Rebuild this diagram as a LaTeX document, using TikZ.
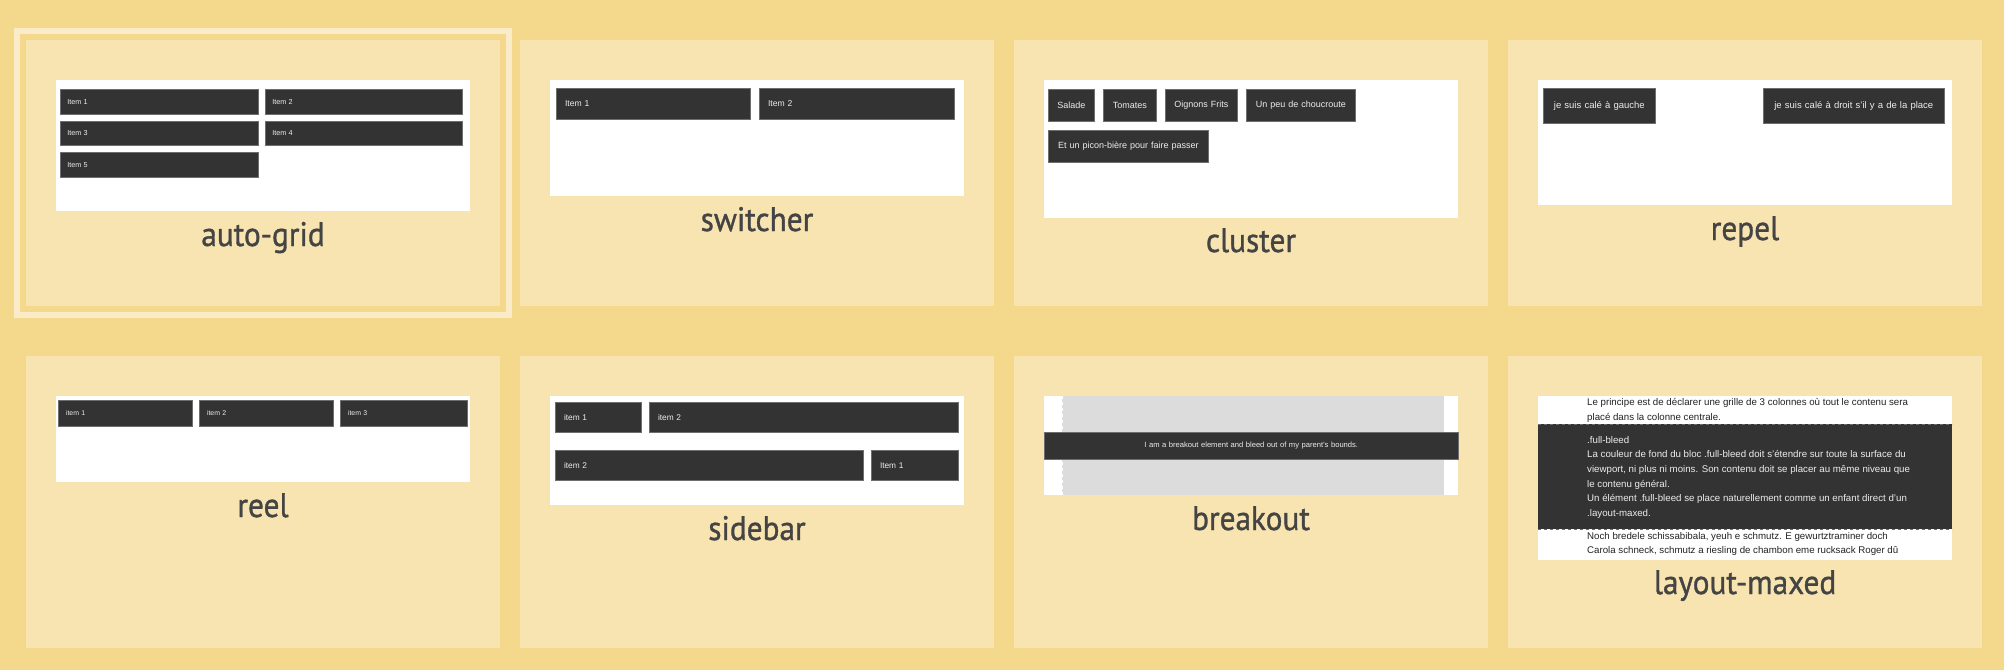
\documentclass[tikz,border=0pt]{standalone}
\usepackage{fontspec}
\setmainfont{Liberation Sans}
\newfontfamily\labelfont[FakeStretch=0.92, FakeBold=1.0]{PT Sans}

\definecolor{pagebg}{HTML}{F4D98C}
\definecolor{cardbg}{HTML}{F8E4B0}
\definecolor{framebg}{HTML}{FAECC9}
\definecolor{boxdark}{HTML}{333333}
\definecolor{boxedge}{HTML}{6E6E6E}
\definecolor{labelgray}{HTML}{444444}
\definecolor{bleedgray}{HTML}{DCDCDC}
\definecolor{bodytext}{HTML}{222222}

\tikzset{
  card/.style={fill=cardbg},
  panel/.style={fill=white},
  uibox/.style={fill=boxdark, draw=boxedge, line width=0.6pt, text=white!93!black,
    inner ysep=0pt, anchor=north west},
  caption/.style={font=\labelfont\fontsize{34}{34}\selectfont, text=labelgray, anchor=base},
  lmline/.style={anchor=base west, inner sep=0pt, font=\fontsize{9.7}{9.7}\selectfont},
}

% \uibox{name}{x1}{y1}{x2}{y2}{padding}{font size}{alignment}{text}
\newcommand\uibox[9]{%
  \pgfmathsetmacro\boxw{#4-#2}%
  \pgfmathsetmacro\boxh{#5-#3}%
  \pgfmathsetmacro\boxtw{#4-#2-2*#6}%
  \node[uibox, minimum width=\boxw pt, minimum height=\boxh pt, text width=\boxtw pt,
    inner xsep=#6pt, align=#8, font=\fontsize{#7}{#7}\selectfont] (#1) at (#2,#3) {#9};}

\begin{document}
\begin{tikzpicture}[x=1pt,y=-1pt]
\useasboundingbox (0,0) rectangle (2004,670);
\fill[pagebg] (0,0) rectangle (2004,670);

% highlight frame around the first card
\draw[framebg, line width=6pt] (17,31) rectangle (509,315);

% cards
\fill[card] (26,40) rectangle (500,306);
\fill[card] (520,40) rectangle (994,306);
\fill[card] (1014,40) rectangle (1488,306);
\fill[card] (1508,40) rectangle (1982,306);
\fill[card] (26,356) rectangle (500,648);
\fill[card] (520,356) rectangle (994,648);
\fill[card] (1014,356) rectangle (1488,648);
\fill[card] (1508,356) rectangle (1982,648);

% preview panels
\fill[panel] (56,80) rectangle (470,211);
\fill[panel] (550,80) rectangle (964,196);
\fill[panel] (1044,80) rectangle (1458,218);
\fill[panel] (1538,80) rectangle (1952,205);
\fill[panel] (56,396) rectangle (470,482);
\fill[panel] (550,396) rectangle (964,505);
\fill[panel] (1044,396) rectangle (1458,495);
\fill[panel] (1538,396) rectangle (1952,560);

% auto-grid
\uibox{ag1}{60}{89}{258}{114}{7}{7.2}{left}{Item 1}
\uibox{ag2}{265}{89}{462}{114}{7}{7.2}{left}{Item 2}
\uibox{ag3}{60}{121}{258}{145}{7}{7.2}{left}{Item 3}
\uibox{ag4}{265}{121}{462}{145}{7}{7.2}{left}{Item 4}
\uibox{ag5}{60}{152}{258}{177}{7}{7.2}{left}{Item 5}

% switcher
\uibox{sw1}{556}{88}{750}{119}{8.7}{8.6}{left}{Item 1}
\uibox{sw2}{759}{88}{954}{119}{8.7}{8.6}{left}{Item 2}

% cluster
\uibox{cl1}{1048}{89}{1094}{121}{2}{9}{center}{Salade}
\uibox{cl2}{1103}{89}{1156}{121}{2}{9}{center}{Tomates}
\uibox{cl3}{1165}{89}{1237}{121}{2}{9}{center}{Oignons Frits}
\uibox{cl4}{1246}{89}{1355}{121}{2}{9}{center}{Un peu de choucroute}
\uibox{cl5}{1048}{130}{1208}{162}{2}{9}{center}{Et un picon-bière pour faire passer}

% repel
\uibox{rp1}{1543}{88}{1655}{123}{2}{9.5}{center}{je suis calé à gauche}
\uibox{rp2}{1763}{88}{1944}{123}{2}{9.5}{center}{je suis calé à droit s'il y a de la place}

% reel
\uibox{re1}{58}{400}{192}{426}{7.7}{6.9}{left}{item 1}
\uibox{re2}{199}{400}{333}{426}{7.7}{6.9}{left}{item 2}
\uibox{re3}{340}{400}{467}{426}{7.7}{6.9}{left}{item 3}

% sidebar
\uibox{sb1}{555}{402}{641}{432}{8.7}{8.3}{left}{item 1}
\uibox{sb2}{649}{402}{958}{432}{8.7}{8.3}{left}{item 2}
\uibox{sb3}{555}{450}{863}{480}{8.7}{8.3}{left}{item 2}
\uibox{sb4}{871}{450}{958}{480}{8.7}{8.3}{left}{Item 1}

% breakout
\fill[bleedgray] (1062,396) rectangle (1444,495);
\draw[white, line width=0.6pt, dashed] (1062,396) -- (1062,495);
\draw[white, line width=0.6pt, dashed] (1444,396) -- (1444,495);
\uibox{bo}{1044}{432}{1458}{459}{2}{7.6}{center}{I am a breakout element and bleed out of my parent's bounds.}

% layout-maxed
\fill[boxdark] (1538,424) rectangle (1952,529);
\draw[boxedge, line width=0.6pt, dashed] (1538,424) -- (1952,424);
\draw[boxedge, line width=0.6pt, dashed] (1538,529) -- (1952,529);
\node[lmline, text=bodytext] (lm1) at (1587,405.7) {Le principe est de déclarer une grille de 3 colonnes où tout le contenu sera};
\node[lmline, text=bodytext] (lm2) at (1587,420.3) {placé dans la colonne centrale.};
\node[lmline, text=white!93!black] (lm3) at (1587,443) {.full-bleed};
\node[lmline, text=white!93!black] (lm4) at (1587,457.7) {La couleur de fond du bloc .full-bleed doit s'étendre sur toute la surface du};
\node[lmline, text=white!93!black] (lm5) at (1587,472.3) {viewport, ni plus ni moins. Son contenu doit se placer au même niveau que};
\node[lmline, text=white!93!black] (lm6) at (1587,487) {le contenu général.};
\node[lmline, text=white!93!black] (lm7) at (1587,501.7) {Un élément .full-bleed se place naturellement comme un enfant direct d'un};
\node[lmline, text=white!93!black] (lm8) at (1587,516.3) {.layout-maxed.};
\node[lmline, text=bodytext] (lm9) at (1587,539) {Noch bredele schissabibala, yeuh e schmutz. E gewurtztraminer doch};
\node[lmline, text=bodytext] (lm10) at (1587,553.7) {Carola schneck, schmutz a riesling de chambon eme rucksack Roger dû};

% captions
\node[caption] (cap1) at (263,246) {auto-grid};
\node[caption] (cap2) at (757,231) {switcher};
\node[caption] (cap3) at (1251,252) {cluster};
\node[caption] (cap4) at (1745,240) {repel};
\node[caption] (cap5) at (263,517) {reel};
\node[caption] (cap6) at (757,540) {sidebar};
\node[caption] (cap7) at (1251,530) {breakout};
\node[caption] (cap8) at (1745,594) {layout-maxed};
\end{tikzpicture}
\end{document}
